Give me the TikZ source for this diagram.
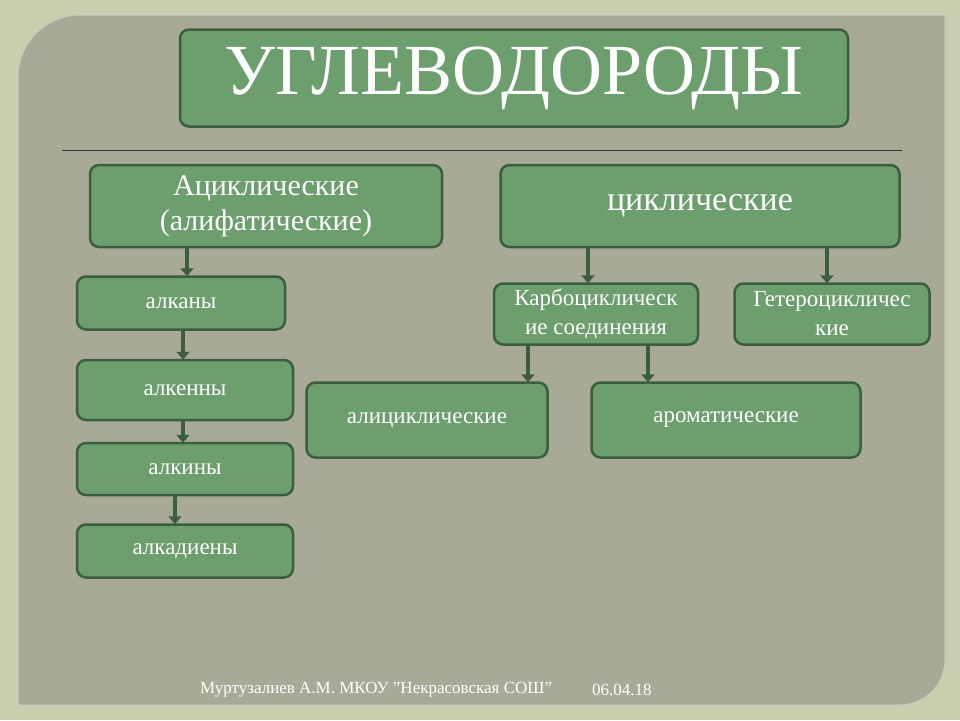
\documentclass[tikz,border=0pt]{standalone}
\usepackage{fontspec}
\setmainfont{Liberation Serif}
\usetikzlibrary{arrows.meta}
\definecolor{outerbg}{HTML}{C9CFAE}
\definecolor{panel}{HTML}{A8AA97}
\definecolor{boxfill}{HTML}{6C9E6E}
\definecolor{boxline}{HTML}{3B5E3E}
\begin{document}
\begin{tikzpicture}[x=1pt,y=-1pt,
  gbox/.style={draw=boxline,line width=2.5pt,fill=boxfill,rounded corners=9pt,text=white,align=center,inner sep=0pt},
  arr/.style={draw=boxline,line width=4.5pt,-{Triangle[width=13pt,length=8pt]},shorten >=-1pt}]
\useasboundingbox (0,0) rectangle (960,720);
\fill[outerbg] (0,0) rectangle (960,720);
\fill[panel,draw=white!40!panel,line width=1pt] (80,15) -- (945,15) -- (945,660) arc[start angle=0,end angle=90,radius=45] -- (18,705) -- (18,77) arc[start angle=180,end angle=270,radius=62] -- cycle;
\node[gbox,minimum width=668pt,minimum height=97pt,font=\fontsize{72}{72}\selectfont] (t) at (514,78) {УГЛЕВОДОРОДЫ};
\draw[black!80,line width=1pt] (62,150) -- (902,150);
\node[gbox,minimum width=352pt,minimum height=82pt,font=\fontsize{30}{35}\selectfont] (ac) at (266,206) {Ациклические\\(алифатические)};
\node[gbox,minimum width=399pt,minimum height=82pt,font=\fontsize{34}{36}\selectfont] (cy) at (700,206) {циклические};
\node[gbox,minimum width=208pt,minimum height=53pt,font=\fontsize{23}{26}\selectfont] (a1) at (181,303) {алканы};
\node[gbox,minimum width=216pt,minimum height=60pt,font=\fontsize{23}{26}\selectfont] (a2) at (185,390) {алкенны};
\node[gbox,minimum width=216pt,minimum height=52pt,font=\fontsize{23}{26}\selectfont] (a3) at (185,469) {алкины};
\node[gbox,minimum width=216pt,minimum height=53pt,font=\fontsize{23}{26}\selectfont] (a4) at (185,551) {алкадиены};
\node[gbox,minimum width=204pt,minimum height=61pt,font=\fontsize{23}{29}\selectfont] (kb) at (596,314) {Карбоциклическ\\ие соединения};
\node[gbox,minimum width=195pt,minimum height=61pt,font=\fontsize{23}{29}\selectfont] (gt) at (832,314) {Гетероцикличес\\кие};
\node[gbox,minimum width=241pt,minimum height=75pt,font=\fontsize{23}{26}\selectfont] (al) at (427,420) {алициклические};
\node[gbox,minimum width=269pt,minimum height=75pt,font=\fontsize{23}{26}\selectfont] (ar) at (726,420) {ароматические};
\draw[arr] (ac.south -| 187,0) -- (a1.north -| 187,0);
\draw[arr] (a1.south -| 183,0) -- (a2.north -| 183,0);
\draw[arr] (a2.south -| 183,0) -- (a3.north -| 183,0);
\draw[arr] (a3.south -| 175,0) -- (a4.north -| 175,0);
\draw[arr] (cy.south -| 588,0) -- (kb.north -| 588,0);
\draw[arr] (cy.south -| 827,0) -- (gt.north -| 827,0);
\draw[arr] (kb.south -| 528,0) -- (al.north -| 528,0);
\draw[arr] (kb.south -| 648,0) -- (ar.north -| 648,0);
\node[text=white,font=\fontsize{17}{18}\selectfont,anchor=west,inner sep=0pt] (ft) at (200,690) {Муртузалиев А.М. МКОУ "Некрасовская СОШ"};
\node[text=white,font=\fontsize{17}{18}\selectfont,anchor=west,inner sep=0pt] (dt) at (592,690) {06.04.18};
\end{tikzpicture}
\end{document}
